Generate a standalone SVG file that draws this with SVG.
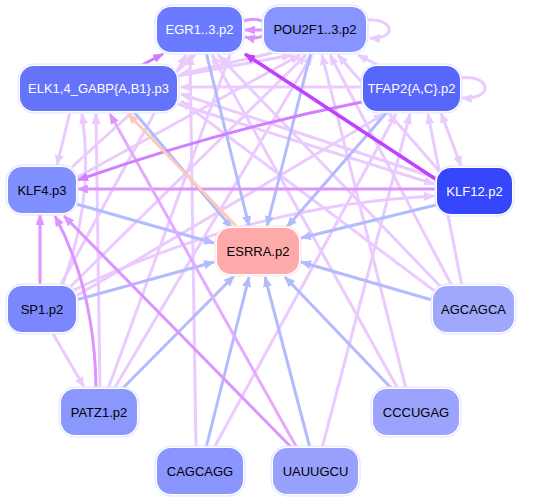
<svg xmlns="http://www.w3.org/2000/svg" width="533" height="501" viewBox="0 0 533 501">
<style>
.e{fill:none;stroke-width:3}
.l{stroke:#ebcbff}
.b{stroke:#b3bbff}
.m{stroke:#dc95ff}
.m2{stroke:#e3aaff}
.d{stroke:#c040ff;stroke-width:3.5}
.p{stroke:#ffcbb8}
.o{fill:#ffffff;stroke:#dfe2ff;stroke-width:1}
.t{font-family:"Liberation Sans",Arial,sans-serif;font-size:13px;text-anchor:middle}
.w{fill:#ffffff}
.k{fill:#000000}
</style>
<defs>
<marker id="ml" markerUnits="userSpaceOnUse" markerWidth="11" markerHeight="9" refX="10" refY="4.5" orient="auto-start-reverse"><path d="M0,0 L11,4.5 L0,9 z" fill="#ebcbff"/></marker>
<marker id="mb" markerUnits="userSpaceOnUse" markerWidth="11" markerHeight="9" refX="10" refY="4.5" orient="auto"><path d="M0,0 L11,4.5 L0,9 z" fill="#b3bbff"/></marker>
<marker id="mm" markerUnits="userSpaceOnUse" markerWidth="11" markerHeight="9" refX="10" refY="4.5" orient="auto"><path d="M0,0 L11,4.5 L0,9 z" fill="#dc95ff"/></marker>
<marker id="mm2" markerUnits="userSpaceOnUse" markerWidth="11" markerHeight="9" refX="10" refY="4.5" orient="auto"><path d="M0,0 L11,4.5 L0,9 z" fill="#d080ff"/></marker>
<marker id="md" markerUnits="userSpaceOnUse" markerWidth="11" markerHeight="9" refX="10" refY="4.5" orient="auto"><path d="M0,0 L11,4.5 L0,9 z" fill="#c040ff"/></marker>
<marker id="mp" markerUnits="userSpaceOnUse" markerWidth="11" markerHeight="9" refX="10" refY="4.5" orient="auto"><path d="M0,0 L11,4.5 L0,9 z" fill="#ffcbb8"/></marker>
</defs>
<g id="connectors">
<!-- light edges -->
<g class="e l" marker-end="url(#ml)">
<path d="M60,286 L186,55"/>
<path d="M196,448 L190,55"/>
<path d="M108,389 L230,55"/>
<path d="M398,389 L212,55"/>
<path d="M440,286 L218,55"/>
<path d="M72,167 L195,55"/>
<path d="M76,178 L300,55"/>
<path d="M70,287 L306,55"/>
<path d="M114,389 L312,55"/>
<path d="M406,389 L322,55"/>
<path d="M452,286 L330,55"/>
<path d="M178,76 L292,55"/>
<path d="M380,66 L358,55"/>
<path d="M440,172 L338,55"/>
<path d="M272,53 L181,74"/>
<path d="M362,87 L181,87"/>
<path d="M436,178 L181,94"/>
<path d="M436,292 L181,101"/>
<path d="M100,389 L96,114"/>
<path d="M62,286 Q95,200 82,114"/>
<path d="M70,112 L57,165"/>
<path d="M74,290 Q250,205 434,196"/>
<path d="M178,104 L434,184"/>
<path d="M76,296 L384,114"/>
<path d="M214,448 L396,114"/>
<path d="M322,448 L410,114"/>
<path d="M462,286 L428,114"/>
<path d="M52,332 L84,387"/>
<path d="M441,113 L461,166" marker-start="url(#ml)"/>
<path d="M367,20 C395,18 397,40 370,38"/>
<path d="M460,78 C492,74 494,100 462,98"/>
</g>
<!-- blue edges into ESRRA -->
<g class="e b" marker-end="url(#mb)">
<path d="M76,204 L214,243"/>
<path d="M76,300 L214,262"/>
<path d="M122,389 L234,276"/>
<path d="M206,448 L249,277"/>
<path d="M310,448 L265,277"/>
<path d="M392,389 L285,277"/>
<path d="M432,300 L301,262"/>
<path d="M436,205 L301,238"/>
<path d="M388,111 L287,227"/>
<path d="M311,52 L267,226"/>
<path d="M206,52 L249,226"/>
<path d="M134,112 L232,228"/>
</g>
<!-- medium purple edges -->
<g class="e m" marker-end="url(#mm)">
<path d="M40,286 L40,215"/>
<path d="M96,389 Q95,290 55,216"/>
<path d="M292,448 L64,216"/>
<path d="M436,189 L78,189"/>
<path d="M243,21 C275,12 276,44 245,37"/>
<path d="M264,30 L245,30"/>
</g>
<path class="e m2" d="M297,448 L110,114" marker-end="url(#mm)"/>
<path class="e" stroke="#d080ff" d="M362,102 Q220,130 78,180" marker-end="url(#mm2)"/>
<path class="e" stroke="#cc77ff" d="M140,66 L163,54" marker-end="url(#mm2)"/>
<path class="e d" d="M437,180 L245,54" marker-end="url(#md)"/>
<path class="e p" d="M238,228 L128,114" marker-end="url(#mp)"/>
</g>
<g id="EGR1_3_p2"><rect class="o" x="155" y="5" width="89" height="49" rx="16"/><rect x="157" y="7" width="85" height="45" rx="14" fill="#6b7bff"/><text class="t w" x="199.5" y="34">EGR1..3.p2</text></g>
<g id="POU2F1_3_p2"><rect class="o" x="262" y="5" width="106" height="49" rx="16"/><rect x="264" y="7" width="102" height="45" rx="14" fill="#8894ff"/><text class="t k" x="315" y="34">POU2F1..3.p2</text></g>
<g id="ELK1_4_GABP_p3"><rect class="o" x="18" y="64" width="161" height="49" rx="16"/><rect x="20" y="66" width="157" height="45" rx="14" fill="#6573fb"/><text class="t w" x="98.5" y="93">ELK1,4_GABP{A,B1}.p3</text></g>
<g id="TFAP2_p2"><rect class="o" x="361" y="64" width="101" height="49" rx="16"/><rect x="363" y="66" width="97" height="45" rx="14" fill="#5766fb"/><text class="t w" x="411.5" y="93">TFAP2{A,C}.p2</text></g>
<g id="KLF4_p3"><rect class="o" x="6" y="165" width="72" height="50" rx="16"/><rect x="8" y="167" width="68" height="46" rx="14" fill="#8190ff"/><text class="t k" x="42" y="194.5">KLF4.p3</text></g>
<g id="KLF12_p2"><rect class="o" x="435" y="166" width="79" height="50" rx="16"/><rect x="437" y="168" width="75" height="46" rx="14" fill="#3646fb"/><text class="t w" x="474.5" y="195.5">KLF12.p2</text></g>
<g id="ESRRA_p2"><rect x="215" y="226" width="86" height="50" rx="16" fill="#ffffff" stroke="#ffe0e0" stroke-width="1"/><rect x="217" y="228" width="82" height="46" rx="14" fill="#ffaaaa"/><text class="t k" x="258" y="255.5">ESRRA.p2</text></g>
<g id="SP1_p2"><rect class="o" x="6" y="284" width="72" height="50" rx="16"/><rect x="8" y="286" width="68" height="46" rx="14" fill="#7a87fd"/><text class="t k" x="42" y="313.5">SP1.p2</text></g>
<g id="AGCAGCA"><rect class="o" x="431" y="284" width="85" height="50" rx="16"/><rect x="433" y="286" width="81" height="46" rx="14" fill="#a0a8fc"/><text class="t k" x="473.5" y="313.5">AGCAGCA</text></g>
<g id="PATZ1_p2"><rect class="o" x="59" y="387" width="80" height="50" rx="16"/><rect x="61" y="389" width="76" height="46" rx="14" fill="#8a97fd"/><text class="t k" x="99" y="416.5">PATZ1.p2</text></g>
<g id="CCCUGAG"><rect class="o" x="371" y="387" width="90" height="50" rx="16"/><rect x="373" y="389" width="86" height="46" rx="14" fill="#9ba3fd"/><text class="t k" x="416" y="416.5">CCCUGAG</text></g>
<g id="CAGCAGG"><rect class="o" x="155" y="446" width="90" height="50" rx="16"/><rect x="157" y="448" width="86" height="46" rx="14" fill="#8a95fd"/><text class="t k" x="200" y="475.5">CAGCAGG</text></g>
<g id="UAUUGCU"><rect class="o" x="271" y="446" width="89" height="50" rx="16"/><rect x="273" y="448" width="85" height="46" rx="14" fill="#98a1fd"/><text class="t k" x="315.5" y="475.5">UAUUGCU</text></g>
</svg>
